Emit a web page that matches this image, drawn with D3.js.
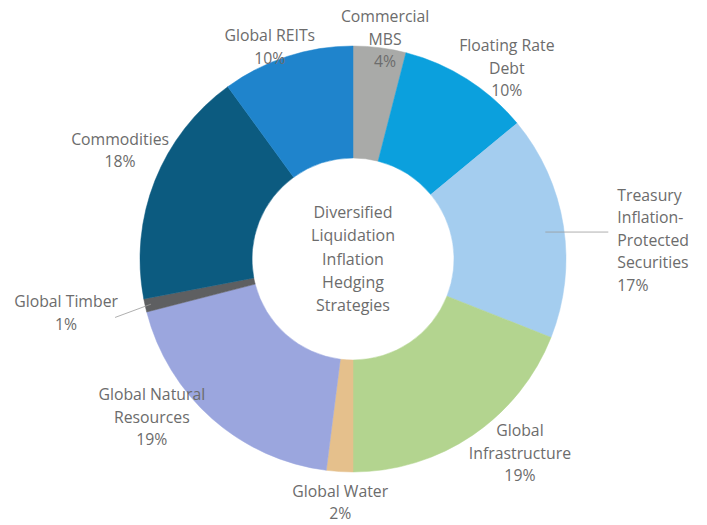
<!DOCTYPE html>
<html>
<head>
<meta charset="utf-8">
<script src="https://cdn.jsdelivr.net/npm/d3@7"></script>
<style>
  html, body { margin: 0; padding: 0; background: #fff; }
  svg text { font-family: "Open Sans", "Liberation Sans", sans-serif; fill: #6c6c6c; }
</style>
</head>
<body>
<div id="chart"></div>
<script>
// slices, clockwise from 12 o'clock
var categories = ['Commercial MBS', 'Floating Rate Debt', 'Treasury Inflation-Protected Securities',
  'Global Infrastructure', 'Global Water', 'Global Natural Resources', 'Global Timber',
  'Commodities', 'Global REITs'];
var shares = [4, 10, 17, 19, 2, 19, 1, 18, 10];
var labelLines = [
  ['Commercial', 'MBS'],
  ['Floating Rate', 'Debt'],
  ['Treasury', 'Inflation-', 'Protected', 'Securities'],
  ['Global', 'Infrastructure'],
  ['Global Water'],
  ['Global Natural', 'Resources'],
  ['Global Timber'],
  ['Commodities'],
  ['Global REITs']
];
var centerTitle = ['Diversified', 'Liquidation', 'Inflation', 'Hedging', 'Strategies'];
var colors = ['#a9aaa8', '#0ba0dd', '#a4cdef', '#b3d48f', '#e5c08c', '#9ba6de', '#5e5f61', '#0c5b80', '#1f84cc'];

// label placement: radius and angle (deg, clockwise from top) of each label block centre
var labelPlace = [
  {r: 222, a: 8.3}, {r: 245, a: 38.9}, {r: 265, a: 85.9, anchor: 'start', leader: true},
  {r: 256, a: 139.3}, {r: 244, a: 183}, {r: 256, a: 231.8},
  {r: 292, a: 259.3, leader: true}, {r: 257, a: 295}, {r: 228, a: 338.6}
];

var width = 707, height = 525;
var cx = 353, cy = 259, outerR = 213, innerR = 101, lineH = 22.5;

var svg = d3.select('#chart').append('svg')
  .attr('width', width)
  .attr('height', height);

var g = svg.append('g').attr('transform', 'translate(' + cx + ',' + cy + ')');

var pie = d3.pie().sort(null).value(function(d) { return d; });
var arc = d3.arc().innerRadius(innerR).outerRadius(outerR);
var arcs = pie(shares);

g.selectAll('path.slice')
  .data(arcs)
  .enter().append('path')
  .attr('class', 'slice')
  .attr('d', arc)
  .attr('fill', function(d, i) { return colors[i]; })
  .attr('stroke', function(d, i) { return colors[i]; })
  .attr('stroke-width', 0.5);

function polar(r, deg) {
  var a = deg * Math.PI / 180;
  return [r * Math.sin(a), -r * Math.cos(a)];
}

// leader lines
arcs.forEach(function(d, i) {
  var p = labelPlace[i];
  if (!p.leader) return;
  var mid = (d.startAngle + d.endAngle) / 2 * 180 / Math.PI;
  var a, b;
  if (p.anchor === 'start') {
    var c = polar(p.r, p.a);
    a = [c[0] - 72, c[1] - 8];
    b = [c[0] - 9, c[1] - 8];
  } else {
    a = polar(outerR - 6, mid);
    b = polar(outerR + 32, mid - 1.2);
  }
  g.append('line')
    .attr('x1', a[0]).attr('y1', a[1])
    .attr('x2', b[0]).attr('y2', b[1])
    .attr('stroke', '#9a9a9a')
    .attr('stroke-width', 0.8);
});

// slice labels
arcs.forEach(function(d, i) {
  var p = labelPlace[i];
  var lines = labelLines[i].concat([shares[i] + '%']);
  var c = polar(p.r, p.a);
  var y0 = c[1] - (lines.length - 1) * lineH / 2;
  var t = g.append('text')
    .attr('text-anchor', p.anchor || 'middle')
    .attr('font-size', 15.8);
  lines.forEach(function(s, k) {
    t.append('tspan')
      .attr('x', c[0])
      .attr('y', y0 + k * lineH)
      .attr('dy', '0.35em')
      .text(s);
  });
});

// centre title
var ct = g.append('text')
  .attr('text-anchor', 'middle')
  .attr('font-size', 16);
centerTitle.forEach(function(s, k) {
  ct.append('tspan')
    .attr('x', 0)
    .attr('y', (k - (centerTitle.length - 1) / 2) * 23.2)
    .attr('dy', '0.35em')
    .text(s);
});
</script>
</body>
</html>
